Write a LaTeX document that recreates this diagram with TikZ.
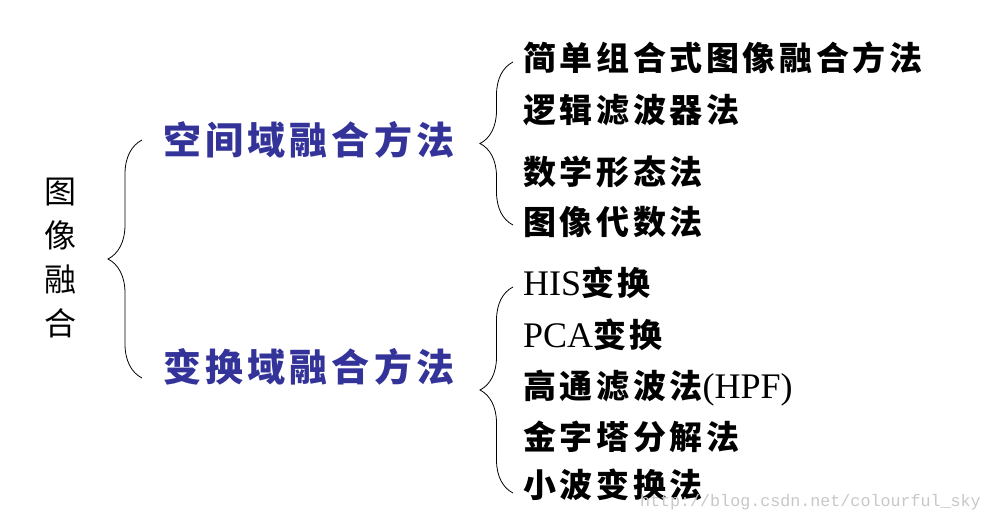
\documentclass[tikz,border=0pt]{standalone}
\usepackage{fontspec}
\usepackage{xcolor}
\usepackage{tikz}
\usetikzlibrary{decorations.pathreplacing}
\setmainfont{Liberation Serif}
\setmonofont{Liberation Mono}
\newfontfamily\zhfont{Noto Sans CJK SC}
\newfontfamily\zhwide[LetterSpace=11]{Noto Sans CJK SC}
\definecolor{headblue}{RGB}{51,51,153}
\newcommand{\lat}[1]{{\rmfamily\mdseries\fontsize{36}{40}\selectfont #1}}

\begin{document}
\begin{tikzpicture}[x=1pt,y=1pt,
    item/.style={anchor=west, inner sep=0pt, font=\zhwide\bfseries\fontsize{33}{40}\selectfont},
    head/.style={anchor=west, inner sep=0pt, text=headblue, font=\zhwide\bfseries\fontsize{38}{44}\selectfont},
    curly/.style={decorate, decoration={brace, amplitude=34pt}, line width=0.8pt}]
    \useasboundingbox (0,0) rectangle (993,-521);
    % root and the two branches
    \node[font=\zhfont\fontsize{32}{44}\selectfont, align=center] (root) at (60,-258) {图\\像\\融\\合};
    \node[head] (spatial) at (163,-140) {空间域融合方法};
    \node[head] (transform) at (163,-367) {变换域融合方法};
    \coordinate (rootTop) at (142,-140);
    \coordinate (rootBot) at (142,-378);
    \draw[curly] (rootBot) -- (rootTop);
    % spatial methods
    \foreach \t/\y/\n in {简单组合式图像融合方法/58/1, 逻辑滤波器法/110/2, 数学形态法/172/3, 图像代数法/222/4}{
      \node[item] (sp\n) at (523,-\y) {\t};
    };
    \coordinate (spTop) at (513,-62);
    \coordinate (spBot) at (513,-225);
    \draw[curly, decoration={amplitude=33pt}] (spBot) -- (spTop);
    % transform methods
    \node[item] (tr1) at (523,-283) {\lat{HIS}变换};
    \node[item] (tr2) at (523,-335) {\lat{PCA}变换};
    \node[item] (tr3) at (523,-388) {高通滤波法\lat{(HPF)}};
    \node[item] (tr4) at (523,-437) {金字塔分解法};
    \node[item] (tr5) at (523,-485) {小波变换法};
    \coordinate (trTop) at (513,-287);
    \coordinate (trBot) at (513,-493);
    \draw[curly, decoration={amplitude=33pt}] (trBot) -- (trTop);
    \node[anchor=east, inner sep=0pt, text=black!22, font=\ttfamily\fontsize{16.7}{18}\selectfont] (mark) at (981,-502) {http://blog.csdn.net/colourful\_sky};
\end{tikzpicture}
\end{document}
